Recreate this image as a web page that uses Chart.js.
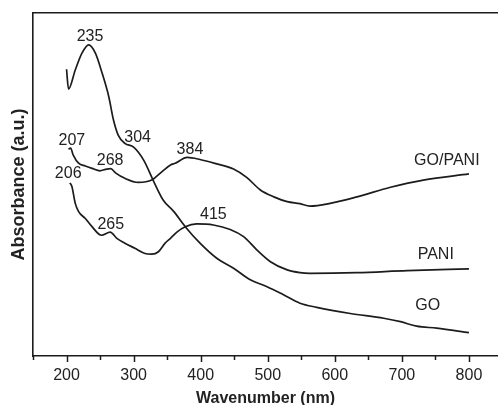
<!DOCTYPE html>
<html>
<head>
<meta charset="utf-8">
<script src="https://cdn.jsdelivr.net/npm/chart.js@4/dist/chart.umd.min.js"></script>
<style>
  body { margin: 0; background: #fff; }
  #wrap { width: 498px; height: 405px; }
</style>
</head>
<body>
<div id="wrap"><canvas id="myChart" width="498" height="405"></canvas></div>
<script>
// spectra (absorbance in arbitrary units, 0..1 = plot height)
const goNm  = [200, 203, 213, 223, 233, 243, 253, 263, 270, 277, 287, 300, 315, 329, 344, 360, 377, 399, 424, 449, 474, 499, 524, 548, 573, 623, 673, 698, 722, 752, 800];
const goAbs = [0.836, 0.778, 0.834, 0.883, 0.907, 0.883, 0.825, 0.756, 0.688, 0.644, 0.620, 0.609, 0.571, 0.513, 0.455, 0.421, 0.377, 0.329, 0.285, 0.256, 0.222, 0.202, 0.178, 0.154, 0.142, 0.124, 0.110, 0.100, 0.087, 0.081, 0.068];

const paniNm  = [205, 208, 213, 218, 228, 238, 252, 265, 275, 287, 302, 317, 327, 337, 347, 355, 365, 377, 394, 419, 444, 464, 484, 504, 529, 548, 563, 633, 708, 800];
const paniAbs = [0.505, 0.494, 0.445, 0.421, 0.401, 0.377, 0.352, 0.361, 0.343, 0.329, 0.314, 0.299, 0.297, 0.304, 0.329, 0.343, 0.362, 0.377, 0.385, 0.382, 0.369, 0.348, 0.309, 0.275, 0.251, 0.243, 0.241, 0.243, 0.249, 0.254];

const gopaniNm  = [203, 206, 210, 218, 228, 238, 250, 258, 266, 273, 287, 307, 327, 342, 355, 362, 380, 399, 424, 449, 469, 489, 509, 529, 548, 563, 593, 633, 683, 732, 800];
const gopaniAbs = [0.603, 0.606, 0.586, 0.562, 0.554, 0.547, 0.540, 0.544, 0.546, 0.534, 0.518, 0.506, 0.513, 0.537, 0.557, 0.562, 0.579, 0.573, 0.560, 0.545, 0.520, 0.484, 0.464, 0.450, 0.444, 0.437, 0.445, 0.464, 0.492, 0.513, 0.531];

// peak labels and curve names: text, wavelength, absorbance
const notes = [
  ['235', 235, 0.931], ['304', 306, 0.638],
  ['207', 208, 0.628], ['268', 265, 0.569], ['384', 384, 0.602],
  ['206', 202.5, 0.531], ['265', 266, 0.382], ['415', 419, 0.413],
  ['GO/PANI', 767, 0.569], ['PANI', 750.5, 0.296], ['GO', 738.5, 0.146]
];

const ink = '#1c1c1c';
const toPoints = (xs, ys) => xs.map((x, i) => ({ x: x, y: ys[i] }));

function lineSet(label, xs, ys) {
  return {
    label: label,
    data: toPoints(xs, ys),
    borderColor: ink,
    borderWidth: 1.7,
    pointRadius: 0,
    fill: false,
    cubicInterpolationMode: 'monotone'
  };
}

// text labels + tick marks of different length (major 100, minor 50)
const extras = {
  id: 'extras',
  afterDraw(chart) {
    const c = chart.ctx;
    const xs = chart.scales.x, ys = chart.scales.y;
    const base = chart.chartArea.bottom;
    c.save();
    c.strokeStyle = ink;
    c.lineWidth = 1.5;
    for (let v = 150; v <= 800; v += 50) {
      const px = Math.round(xs.getPixelForValue(v)) + 0.5;
      const len = v % 100 === 0 ? 6 : 4;
      c.beginPath();
      c.moveTo(px, base);
      c.lineTo(px, base + len);
      c.stroke();
    }
    c.fillStyle = '#222';
    c.font = '16px "Liberation Sans", Arial, sans-serif';
    c.textAlign = 'center';
    c.textBaseline = 'middle';
    notes.forEach(n => {
      c.fillText(n[0], xs.getPixelForValue(n[1]), ys.getPixelForValue(n[2]));
    });
    c.restore();
  }
};

new Chart(document.getElementById('myChart'), {
  type: 'line',
  data: {
    datasets: [
      lineSet('GO', goNm, goAbs),
      lineSet('PANI', paniNm, paniAbs),
      lineSet('GO/PANI', gopaniNm, gopaniAbs)
    ]
  },
  options: {
    responsive: false,
    devicePixelRatio: 1,
    animation: false,
    layout: { padding: 0 },
    plugins: { legend: { display: false }, tooltip: { enabled: false } },
    scales: {
      x: {
        type: 'linear',
        position: 'bottom',
        min: 150,
        max: 843.3,
        afterFit(s) { s.height = 49; },
        grid: { drawOnChartArea: false, drawTicks: false },
        border: { color: ink, width: 1.6 },
        ticks: {
          stepSize: 50,
          includeBounds: false,
          autoSkip: false,
          maxRotation: 0,
          padding: 10,
          color: '#222',
          font: { family: '"Liberation Sans", Arial, sans-serif', size: 16 },
          callback: v => (v % 100 === 0 ? String(v) : '')
        },
        title: {
          display: true,
          text: 'Wavenumber (nm)',
          color: '#222',
          padding: { top: 0, bottom: -2 },
          font: { family: '"Liberation Sans", Arial, sans-serif', size: 16, weight: 'bold', lineHeight: 1 }
        }
      },
      x2: {
        type: 'linear',
        position: 'top',
        min: 150,
        max: 843.3,
        afterFit(s) { s.height = 13; },
        grid: { drawOnChartArea: false, drawTicks: false },
        border: { color: ink, width: 1.6 },
        ticks: { display: false, includeBounds: false }
      },
      y: {
        min: 0,
        max: 1,
        afterFit(s) { s.width = 33; },
        grid: { drawOnChartArea: false, drawTicks: false },
        border: { color: ink, width: 1.6 },
        ticks: { display: false },
        title: {
          display: true,
          text: 'Absorbance (a.u.)',
          color: '#222',
          padding: { top: 10, bottom: 0 },
          font: { family: '"Liberation Sans", Arial, sans-serif', size: 18, weight: 'bold', lineHeight: 1 }
        }
      }
    }
  },
  plugins: [extras]
});
</script>
</body>
</html>
